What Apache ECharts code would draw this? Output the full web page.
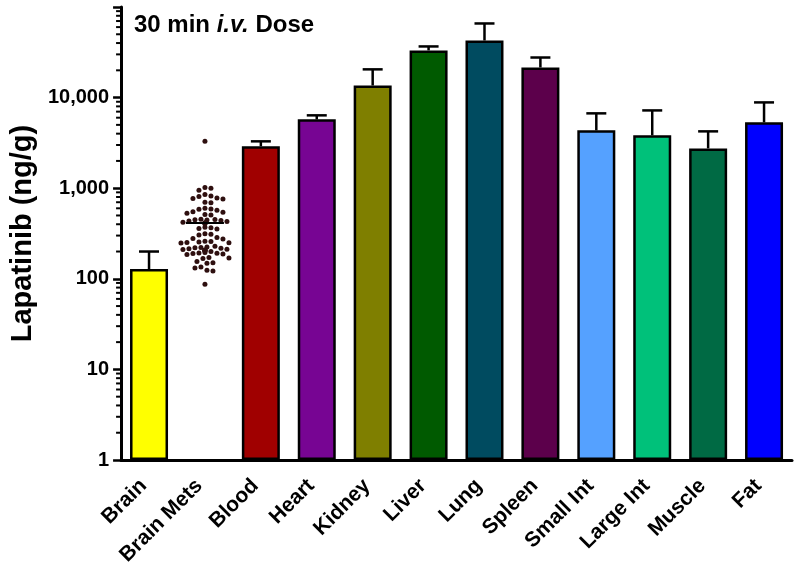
<!DOCTYPE html>
<html>
<head>
<meta charset="utf-8">
<script src="https://cdn.jsdelivr.net/npm/echarts@6/dist/echarts.min.js"></script>
<style>
html,body{margin:0;padding:0;background:#fff;}
#chart{width:800px;height:574px;}
</style>
</head>
<body>
<div id="chart"></div>
<script>
// ---- data ----
var categories = ['Brain','Brain Mets','Blood','Heart','Kidney','Liver','Lung','Spleen','Small Int','Large Int','Muscle','Fat'];
var barMeans   = [128, null, 2900, 5750, 13600, 33200, 42700, 21500, 4350, 3830, 2750, 5330];
var barUpper   = [200, null, 3290, 6370, 20500, 36700, 65800, 27700, 6700, 7220, 4240, 8850];
var barColors  = ['#ffff00', null, '#a00000', '#770593', '#7f7f00', '#005a00', '#004b60', '#5c004b', '#55a1ff', '#00c17a', '#006a44', '#0000ff'];
var brainMetsValues = [
  3290, 1020, 1000, 950, 850, 820, 810, 770, 760, 780, 700, 690,
  585, 590, 600, 570, 543, 550, 530, 513, 505,
  450, 445, 440, 435, 455, 430, 448, 415, 410, 420, 405, 412,
  365, 360, 355, 370, 315, 310, 305, 285, 278, 275,
  255, 250, 258, 248, 252, 260, 225, 220, 218, 228, 222, 215,
  208, 205, 210, 203, 207, 212, 200, 206, 192, 190, 188, 195, 185, 193,
  170, 168, 172, 155, 150, 148, 135, 132, 124, 122, 87
];
var yTickValues = [1, 10, 100, 1000, 10000, 100000];
var brainMetsIndex = 1;

// ---- derived ----
var minorTickValues = [];
for (var d = 0; d < yTickValues.length - 1; d++) {
  for (var m = 2; m <= 9; m++) minorTickValues.push([0, m * yTickValues[d]]);
}
var bmMean = brainMetsValues.reduce(function(a,b){return a+b;},0) / brainMetsValues.length;
var swarmData = brainMetsValues.map(function(v){ return [brainMetsIndex, v]; });

var barData = barMeans.map(function(v, i){
  if (v == null) return '-';
  return {value: v, itemStyle: {color: barColors[i]}};
});
var errData = [];
barMeans.forEach(function(v, i){ if (v != null) errData.push([i, v, barUpper[i]]); });

var dom = document.getElementById('chart');
var chart = echarts.init(dom, null, {renderer: 'canvas'});

var FONT = 'Liberation Sans, Arial, sans-serif';
var swarmOffsets = null;

function computeSwarm(api) {
  var dmin = 5.8;
  var pts = brainMetsValues.map(function(v, k){ return {k: k, y: api.coord([brainMetsIndex, v])[1]}; });
  pts.sort(function(a,b){ return a.y - b.y; });
  var placed = [];
  var offs = new Array(brainMetsValues.length);
  pts.forEach(function(p){
    var cands = [0];
    for (var s = 1; s < 14; s++) { cands.push(s * 2); cands.push(-s * 2); }
    for (var c = 0; c < cands.length; c++) {
      var dx = cands[c], ok = true;
      for (var q = 0; q < placed.length; q++) {
        var ddx = placed[q].x - dx, ddy = placed[q].y - p.y;
        if (ddx*ddx + ddy*ddy < dmin*dmin) { ok = false; break; }
      }
      if (ok) { placed.push({x: dx, y: p.y}); offs[p.k] = dx; return; }
    }
    offs[p.k] = 0;
  });
  return offs;
}

var option = {
  animation: false,
  backgroundColor: '#ffffff',
  grid: {left: 114, right: 8, top: 7, bottom: 114, containLabel: false},
  graphic: [{
    type: 'text', left: 134, top: 13,
    style: {
      text: '{b|30 min }{i|i.v.}{b| Dose}',
      rich: {
        b: {fontFamily: FONT, fontWeight: 'bold', fontSize: 24, fill: '#000'},
        i: {fontFamily: FONT, fontWeight: 'bold', fontStyle: 'italic', fontSize: 24, fill: '#000'}
      }
    }
  }],
  xAxis: {
    type: 'category',
    data: categories,
    boundaryGap: true,
    axisLine: {lineStyle: {color: '#000', width: 3}},
    axisTick: {alignWithLabel: true, length: 6, lineStyle: {color: '#000', width: 2.5}},
    axisLabel: {rotate: 45, margin: 17, padding: [0, 8, 0, 0], interval: 0, color: '#000', fontFamily: FONT, fontWeight: 'bold', fontSize: 21}
  },
  yAxis: {
    type: 'log', logBase: 10, min: 1, max: 100000,
    name: 'Lapatinib (ng/g)', nameLocation: 'middle', nameGap: 76,
    nameTextStyle: {color: '#000', fontFamily: FONT, fontWeight: 'bold', fontSize: 29},
    axisLine: {show: true, lineStyle: {color: '#000', width: 3}},
    axisTick: {show: true, length: 8, lineStyle: {color: '#000', width: 2.5}},
    splitLine: {show: false},
    axisLabel: {
      margin: 12, color: '#000', fontFamily: FONT, fontWeight: 'bold', fontSize: 20,
      formatter: function(v){ return v >= 100000 ? '' : Number(v).toLocaleString('en-US'); }
    }
  },
  series: [
    {
      type: 'bar', data: barData, barWidth: 38, z: 2,
      itemStyle: {borderColor: '#000', borderWidth: 2.5}
    },
    {
      type: 'custom', z: 3, data: errData,
      renderItem: function(params, api){
        var top = api.coord([api.value(0), api.value(2)]);
        var base = api.coord([api.value(0), api.value(1)]);
        var hw = 10;
        return {type: 'group', children: [
          {type: 'line', shape: {x1: base[0], y1: base[1], x2: top[0], y2: top[1]}, style: {stroke: '#000', lineWidth: 2.5}},
          {type: 'line', shape: {x1: top[0]-hw, y1: top[1], x2: top[0]+hw, y2: top[1]}, style: {stroke: '#000', lineWidth: 2.5}}
        ]};
      }
    },
    {
      type: 'custom', z: 4, data: swarmData,
      renderItem: function(params, api){
        if (!swarmOffsets) swarmOffsets = computeSwarm(api);
        var p = api.coord([api.value(0), api.value(1)]);
        return {type: 'circle', shape: {cx: p[0] + swarmOffsets[params.dataIndex], cy: p[1], r: 2.5}, style: {fill: '#2e0f0f'}};
      }
    },
    {
      type: 'custom', z: 5, data: [[brainMetsIndex, bmMean]],
      renderItem: function(params, api){
        var p = api.coord([api.value(0), api.value(1)]);
        return {type: 'line', shape: {x1: p[0]-19, y1: p[1], x2: p[0]+19, y2: p[1]}, style: {stroke: '#000', lineWidth: 2}};
      }
    },
    {
      type: 'custom', z: 6, data: minorTickValues, clip: false,
      renderItem: function(params, api){
        var p = api.coord([api.value(0), api.value(1)]);
        var x0 = params.coordSys.x;
        return {type: 'line', shape: {x1: x0 - 5, y1: p[1], x2: x0, y2: p[1]}, style: {stroke: '#000', lineWidth: 2}};
      }
    }
  ]
};
chart.setOption(option);
</script>
</body>
</html>
